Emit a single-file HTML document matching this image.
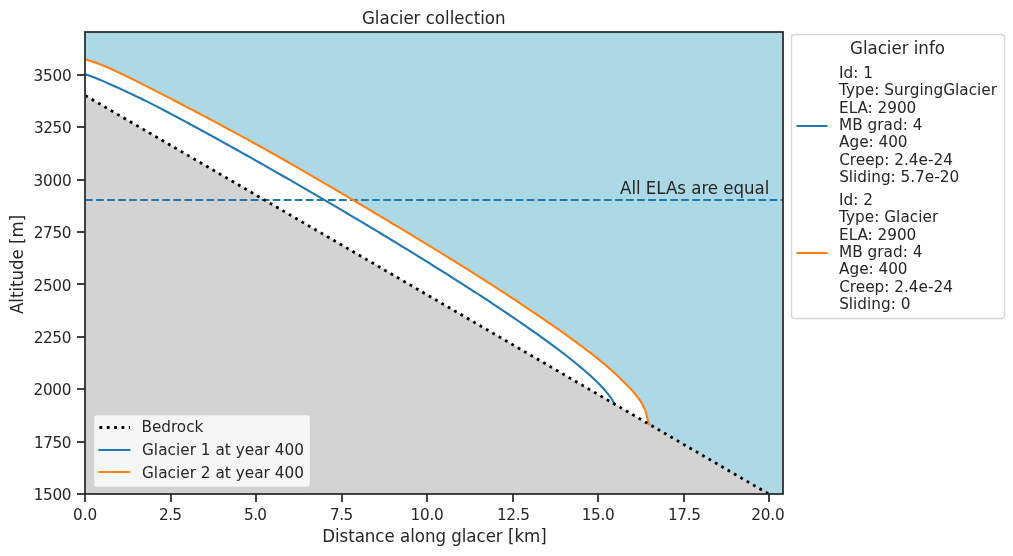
<!DOCTYPE html>
<html lang="en"><head><meta charset="utf-8"><title>Glacier collection</title>
<style>html,body{margin:0;padding:0;background:#fff}body{width:1013px;height:556px;overflow:hidden}svg{display:block}text{font-family:'DejaVu Sans', 'Liberation Sans', sans-serif;fill:#262626;}.t11{font-size:15.278px}.t12{font-size:16.667px}</style></head><body>
<svg width="1013" height="556" viewBox="0 0 1013 556">
<rect x="0" y="0" width="1013" height="556" fill="#ffffff"/>
<defs><clipPath id="axclip"><rect x="85.375" y="32.25" width="697.5" height="462"/></clipPath></defs>
<g clip-path="url(#axclip)">
<rect x="85.375" y="32.25" width="697.5" height="462" fill="#add8e6"/>
<path d="M85.38 59.53 L88.81 60.51 L92.25 61.60 L95.68 62.78 L99.12 64.04 L102.56 65.38 L105.99 66.79 L109.43 68.27 L112.87 69.79 L116.30 71.36 L119.74 72.97 L123.17 74.62 L126.61 76.29 L130.05 77.98 L133.48 79.69 L136.92 81.41 L140.36 83.14 L143.79 84.87 L147.23 86.61 L150.66 88.36 L154.10 90.11 L157.54 91.86 L160.97 93.62 L164.41 95.38 L167.85 97.15 L171.28 98.93 L174.72 100.70 L178.16 102.49 L181.59 104.28 L185.03 106.07 L188.46 107.87 L191.90 109.67 L195.34 111.48 L198.77 113.29 L202.21 115.11 L205.65 116.93 L209.08 118.76 L212.52 120.59 L215.95 122.43 L219.39 124.27 L222.83 126.12 L226.26 127.97 L229.70 129.82 L233.14 131.69 L236.57 133.55 L240.01 135.43 L243.44 137.31 L246.88 139.19 L250.32 141.08 L253.75 142.97 L257.19 144.87 L260.63 146.78 L264.06 148.69 L267.50 150.61 L270.94 152.53 L274.37 154.46 L277.81 156.39 L281.24 158.33 L284.68 160.28 L288.12 162.23 L291.55 164.19 L294.99 166.15 L298.43 168.12 L301.86 170.10 L305.30 172.08 L308.73 174.06 L312.17 176.05 L315.61 178.05 L319.04 180.04 L322.48 182.05 L325.92 184.05 L329.35 186.07 L332.79 188.08 L336.22 190.10 L339.66 192.12 L343.10 194.14 L346.53 196.17 L349.97 198.20 L353.41 200.24 L356.84 202.27 L360.28 204.31 L363.72 206.35 L367.15 208.40 L370.59 210.44 L374.02 212.49 L377.46 214.55 L380.90 216.60 L384.33 218.66 L387.77 220.72 L391.21 222.78 L394.64 224.84 L398.08 226.91 L401.51 228.98 L404.95 231.05 L408.39 233.12 L411.82 235.20 L415.26 237.28 L418.70 239.36 L422.13 241.45 L425.57 243.54 L429.00 245.63 L432.44 247.73 L435.88 249.83 L439.31 251.94 L442.75 254.05 L446.19 256.16 L449.62 258.28 L453.06 260.40 L456.50 262.53 L459.93 264.67 L463.37 266.81 L466.80 268.96 L470.24 271.12 L473.68 273.28 L477.11 275.45 L480.55 277.63 L483.99 279.81 L487.42 282.01 L490.86 284.22 L494.29 286.43 L497.73 288.66 L501.17 290.89 L504.60 293.14 L508.04 295.40 L511.48 297.66 L514.91 299.93 L518.35 302.21 L521.78 304.50 L525.22 306.79 L528.66 309.09 L532.09 311.40 L535.53 313.72 L538.97 316.04 L542.40 318.38 L545.84 320.72 L549.28 323.08 L552.71 325.46 L556.15 327.85 L559.58 330.25 L563.02 332.68 L566.46 335.12 L569.89 337.60 L573.33 340.09 L576.77 342.60 L580.20 345.14 L583.64 347.71 L587.07 350.31 L590.51 352.94 L593.95 355.61 L597.38 358.34 L600.82 361.11 L604.26 363.96 L607.69 366.89 L611.13 369.91 L614.57 373.04 L618.00 376.30 L621.44 379.66 L624.87 383.06 L628.31 386.53 L631.75 390.14 L635.18 394.00 L638.62 398.38 L642.06 403.68 L645.49 410.76 L648.93 424.13 L648.93 424.13 L85.38 95.58 Z" fill="#ffffff"/>
<path d="M85.38 95.58 L769.20 494.25 L85.375 494.25 Z" fill="#d3d3d3"/>
<path d="M85.02 200 L782.875 200" fill="none" stroke="#1f77b4" stroke-width="2.083" stroke-dasharray="7.708 3.333"/>
<path d="M85.38 74.30 L88.81 75.44 L92.25 76.69 L95.68 78.03 L99.12 79.44 L102.56 80.90 L105.99 82.40 L109.43 83.93 L112.87 85.46 L116.30 87.01 L119.74 88.57 L123.17 90.14 L126.61 91.73 L130.05 93.34 L133.48 94.97 L136.92 96.62 L140.36 98.28 L143.79 99.97 L147.23 101.68 L150.66 103.41 L154.10 105.15 L157.54 106.91 L160.97 108.68 L164.41 110.47 L167.85 112.27 L171.28 114.08 L174.72 115.90 L178.16 117.73 L181.59 119.57 L185.03 121.41 L188.46 123.27 L191.90 125.12 L195.34 126.99 L198.77 128.85 L202.21 130.73 L205.65 132.61 L209.08 134.49 L212.52 136.38 L215.95 138.27 L219.39 140.17 L222.83 142.07 L226.26 143.97 L229.70 145.88 L233.14 147.80 L236.57 149.72 L240.01 151.64 L243.44 153.57 L246.88 155.50 L250.32 157.43 L253.75 159.37 L257.19 161.31 L260.63 163.26 L264.06 165.21 L267.50 167.16 L270.94 169.12 L274.37 171.08 L277.81 173.04 L281.24 175.01 L284.68 176.98 L288.12 178.95 L291.55 180.93 L294.99 182.90 L298.43 184.89 L301.86 186.87 L305.30 188.86 L308.73 190.86 L312.17 192.85 L315.61 194.85 L319.04 196.85 L322.48 198.86 L325.92 200.87 L329.35 202.88 L332.79 204.90 L336.22 206.92 L339.66 208.94 L343.10 210.97 L346.53 213.00 L349.97 215.03 L353.41 217.07 L356.84 219.11 L360.28 221.15 L363.72 223.20 L367.15 225.25 L370.59 227.31 L374.02 229.37 L377.46 231.44 L380.90 233.51 L384.33 235.58 L387.77 237.66 L391.21 239.74 L394.64 241.83 L398.08 243.93 L401.51 246.02 L404.95 248.13 L408.39 250.23 L411.82 252.35 L415.26 254.46 L418.70 256.59 L422.13 258.71 L425.57 260.84 L429.00 262.98 L432.44 265.12 L435.88 267.27 L439.31 269.42 L442.75 271.58 L446.19 273.74 L449.62 275.91 L453.06 278.08 L456.50 280.26 L459.93 282.45 L463.37 284.64 L466.80 286.84 L470.24 289.05 L473.68 291.27 L477.11 293.50 L480.55 295.73 L483.99 297.97 L487.42 300.23 L490.86 302.49 L494.29 304.77 L497.73 307.05 L501.17 309.35 L504.60 311.66 L508.04 313.98 L511.48 316.31 L514.91 318.65 L518.35 321.00 L521.78 323.37 L525.22 325.74 L528.66 328.13 L532.09 330.54 L535.53 332.96 L538.97 335.39 L542.40 337.85 L545.84 340.32 L549.28 342.82 L552.71 345.34 L556.15 347.90 L559.58 350.48 L563.02 353.10 L566.46 355.76 L569.89 358.46 L573.33 361.21 L576.77 364.01 L580.20 366.86 L583.64 369.77 L587.07 372.76 L590.51 375.84 L593.95 379.02 L597.38 382.35 L600.82 385.84 L604.26 389.56 L607.69 393.59 L611.13 398.10 L614.57 404.10" fill="none" stroke="#1f77b4" stroke-width="2.083" stroke-linejoin="round" stroke-linecap="square"/>
<path d="M85.38 59.53 L88.81 60.51 L92.25 61.60 L95.68 62.78 L99.12 64.04 L102.56 65.38 L105.99 66.79 L109.43 68.27 L112.87 69.79 L116.30 71.36 L119.74 72.97 L123.17 74.62 L126.61 76.29 L130.05 77.98 L133.48 79.69 L136.92 81.41 L140.36 83.14 L143.79 84.87 L147.23 86.61 L150.66 88.36 L154.10 90.11 L157.54 91.86 L160.97 93.62 L164.41 95.38 L167.85 97.15 L171.28 98.93 L174.72 100.70 L178.16 102.49 L181.59 104.28 L185.03 106.07 L188.46 107.87 L191.90 109.67 L195.34 111.48 L198.77 113.29 L202.21 115.11 L205.65 116.93 L209.08 118.76 L212.52 120.59 L215.95 122.43 L219.39 124.27 L222.83 126.12 L226.26 127.97 L229.70 129.82 L233.14 131.69 L236.57 133.55 L240.01 135.43 L243.44 137.31 L246.88 139.19 L250.32 141.08 L253.75 142.97 L257.19 144.87 L260.63 146.78 L264.06 148.69 L267.50 150.61 L270.94 152.53 L274.37 154.46 L277.81 156.39 L281.24 158.33 L284.68 160.28 L288.12 162.23 L291.55 164.19 L294.99 166.15 L298.43 168.12 L301.86 170.10 L305.30 172.08 L308.73 174.06 L312.17 176.05 L315.61 178.05 L319.04 180.04 L322.48 182.05 L325.92 184.05 L329.35 186.07 L332.79 188.08 L336.22 190.10 L339.66 192.12 L343.10 194.14 L346.53 196.17 L349.97 198.20 L353.41 200.24 L356.84 202.27 L360.28 204.31 L363.72 206.35 L367.15 208.40 L370.59 210.44 L374.02 212.49 L377.46 214.55 L380.90 216.60 L384.33 218.66 L387.77 220.72 L391.21 222.78 L394.64 224.84 L398.08 226.91 L401.51 228.98 L404.95 231.05 L408.39 233.12 L411.82 235.20 L415.26 237.28 L418.70 239.36 L422.13 241.45 L425.57 243.54 L429.00 245.63 L432.44 247.73 L435.88 249.83 L439.31 251.94 L442.75 254.05 L446.19 256.16 L449.62 258.28 L453.06 260.40 L456.50 262.53 L459.93 264.67 L463.37 266.81 L466.80 268.96 L470.24 271.12 L473.68 273.28 L477.11 275.45 L480.55 277.63 L483.99 279.81 L487.42 282.01 L490.86 284.22 L494.29 286.43 L497.73 288.66 L501.17 290.89 L504.60 293.14 L508.04 295.40 L511.48 297.66 L514.91 299.93 L518.35 302.21 L521.78 304.50 L525.22 306.79 L528.66 309.09 L532.09 311.40 L535.53 313.72 L538.97 316.04 L542.40 318.38 L545.84 320.72 L549.28 323.08 L552.71 325.46 L556.15 327.85 L559.58 330.25 L563.02 332.68 L566.46 335.12 L569.89 337.60 L573.33 340.09 L576.77 342.60 L580.20 345.14 L583.64 347.71 L587.07 350.31 L590.51 352.94 L593.95 355.61 L597.38 358.34 L600.82 361.11 L604.26 363.96 L607.69 366.89 L611.13 369.91 L614.57 373.04 L618.00 376.30 L621.44 379.66 L624.87 383.06 L628.31 386.53 L631.75 390.14 L635.18 394.00 L638.62 398.38 L642.06 403.68 L645.49 410.76 L648.93 424.13" fill="none" stroke="#ff7f0e" stroke-width="2.083" stroke-linejoin="round" stroke-linecap="square"/>
<path d="M85.38 95.58 L769.20 494.25" fill="none" stroke="#000" stroke-width="2.778" stroke-dasharray="2.778 4.583"/>
</g>
<path d="M85 494 L85 502" stroke="#262626" stroke-width="1.736"/>
<path d="M171 494 L171 502" stroke="#262626" stroke-width="1.736"/>
<path d="M256 494 L256 502" stroke="#262626" stroke-width="1.736"/>
<path d="M342 494 L342 502" stroke="#262626" stroke-width="1.736"/>
<path d="M427 494 L427 502" stroke="#262626" stroke-width="1.736"/>
<path d="M513 494 L513 502" stroke="#262626" stroke-width="1.736"/>
<path d="M598 494 L598 502" stroke="#262626" stroke-width="1.736"/>
<path d="M684 494 L684 502" stroke="#262626" stroke-width="1.736"/>
<path d="M769 494 L769 502" stroke="#262626" stroke-width="1.736"/>
<path d="M85 75 L77 75" stroke="#262626" stroke-width="1.736"/>
<path d="M85 127 L77 127" stroke="#262626" stroke-width="1.736"/>
<path d="M85 180 L77 180" stroke="#262626" stroke-width="1.736"/>
<path d="M85 232 L77 232" stroke="#262626" stroke-width="1.736"/>
<path d="M85 284 L77 284" stroke="#262626" stroke-width="1.736"/>
<path d="M85 337 L77 337" stroke="#262626" stroke-width="1.736"/>
<path d="M85 389 L77 389" stroke="#262626" stroke-width="1.736"/>
<path d="M85 442 L77 442" stroke="#262626" stroke-width="1.736"/>
<path d="M85 494 L77 494" stroke="#262626" stroke-width="1.736"/>
<rect x="85" y="32" width="698" height="462" fill="none" stroke="#262626" stroke-width="1.736"/>
<rect x="93.5" y="414.5" width="217" height="73" rx="3.06" ry="3.06" fill="#fff" fill-opacity="0.8" stroke="#ccc" stroke-opacity="0.8" stroke-width="1.389"/>
<path d="M99.45 427.5 L130.0 427.5" stroke="#000" stroke-width="2.778" stroke-dasharray="2.778 4.583" fill="none"/>
<path d="M99.27 450 L129.73 450" stroke="#1f77b4" stroke-width="2.083" stroke-linecap="round" fill="none"/>
<path d="M99.27 472 L129.73 472" stroke="#ff7f0e" stroke-width="2.083" stroke-linecap="round" fill="none"/>
<rect x="791.5" y="34.5" width="213" height="284" rx="3.06" ry="3.06" fill="#fff" fill-opacity="0.8" stroke="#ccc" stroke-opacity="0.8" stroke-width="1.389"/>
<path d="M797.27 126 L826.73 126" stroke="#1f77b4" stroke-width="2.083" stroke-linecap="round" fill="none"/>
<path d="M797.27 253 L826.73 253" stroke="#ff7f0e" stroke-width="2.083" stroke-linecap="round" fill="none"/>
<text class="t11" transform="translate(73.11 519.60)" letter-spacing="-0.050">0.0</text>
<text class="t11" transform="translate(159.11 519.60)" letter-spacing="-0.650">2.5</text>
<text class="t11" transform="translate(244.11 519.60)" letter-spacing="-0.650">5.0</text>
<text class="t11" transform="translate(330.06 519.60)" letter-spacing="-0.600">7.5</text>
<text class="t11" transform="translate(410.50 519.60)" letter-spacing="-0.267">10.0</text>
<text class="t11" transform="translate(496.95 519.60)" letter-spacing="-0.367">12.5</text>
<text class="t11" transform="translate(581.75 519.60)" letter-spacing="-0.367">15.0</text>
<text class="t11" transform="translate(667.95 519.60)" letter-spacing="-0.367">17.5</text>
<text class="t11" transform="translate(751.25 519.60)" letter-spacing="-0.167">20.0</text>
<text class="t11" transform="translate(33.54 80.80)" letter-spacing="-0.267">3500</text>
<text class="t11" transform="translate(33.94 132.80)" letter-spacing="-0.400">3250</text>
<text class="t11" transform="translate(33.49 185.80)" letter-spacing="-0.233">3000</text>
<text class="t11" transform="translate(33.69 237.80)" letter-spacing="-0.367">2750</text>
<text class="t11" transform="translate(33.59 290.80)" letter-spacing="-0.367">2500</text>
<text class="t11" transform="translate(33.74 342.80)" letter-spacing="-0.400">2250</text>
<text class="t11" transform="translate(33.49 394.80)" letter-spacing="-0.300">2000</text>
<text class="t11" transform="translate(33.89 447.80)" letter-spacing="-0.433">1750</text>
<text class="t11" transform="translate(33.69 499.80)" letter-spacing="-0.367">1500</text>
<text class="t12" transform="translate(322.15 542.00) scale(1 1.068)" letter-spacing="-0.036">Distance along glacer [km]</text>
<text class="t12" transform="translate(23.00 314.00) rotate(-90) scale(1 1.068)" letter-spacing="-0.036">Altitude [m]</text>
<text class="t12" transform="translate(361.95 24.00) scale(1 1.068)" letter-spacing="-0.018">Glacier collection</text>
<text class="t12" transform="translate(620.05 194.00) scale(1 1.068)" letter-spacing="-0.035">All ELAs are equal</text>
<text class="t11" transform="translate(141.55 432.00)" letter-spacing="-0.050">Bedrock</text>
<text class="t11" transform="translate(142.00 455.00)" letter-spacing="0.030">Glacier 1 at year 400</text>
<text class="t11" transform="translate(142.00 478.00)" letter-spacing="0.030">Glacier 2 at year 400</text>
<text class="t12" transform="translate(850.05 54.00) scale(1 1.068)" letter-spacing="-0.027">Glacier info</text>
<text class="t11" transform="translate(838.95 78.00)" letter-spacing="0.025">Id: 1</text>
<text class="t11" transform="translate(839.00 95.00)" letter-spacing="0.032">Type: SurgingGlacier</text>
<text class="t11" transform="translate(839.05 113.00)" letter-spacing="-0.037">ELA: 2900</text>
<text class="t11" transform="translate(838.95 130.00)" letter-spacing="0.033">MB grad: 4</text>
<text class="t11" transform="translate(839.10 147.00)" letter-spacing="-0.029">Age: 400</text>
<text class="t11" transform="translate(839.15 165.00)" letter-spacing="0.008">Creep: 2.4e-24</text>
<text class="t11" transform="translate(839.15 182.00)" letter-spacing="-0.007">Sliding: 5.7e-20</text>
<text class="t11" transform="translate(838.90 205.00)" letter-spacing="0.050">Id: 2</text>
<text class="t11" transform="translate(839.00 222.00)" letter-spacing="0.033">Type: Glacier</text>
<text class="t11" transform="translate(839.05 240.00)" letter-spacing="-0.037">ELA: 2900</text>
<text class="t11" transform="translate(838.95 257.00)" letter-spacing="0.033">MB grad: 4</text>
<text class="t11" transform="translate(839.10 274.00)" letter-spacing="-0.029">Age: 400</text>
<text class="t11" transform="translate(839.15 292.00)" letter-spacing="0.008">Creep: 2.4e-24</text>
<text class="t11" transform="translate(839.15 309.00)" letter-spacing="0.011">Sliding: 0</text>
</svg></body></html>
